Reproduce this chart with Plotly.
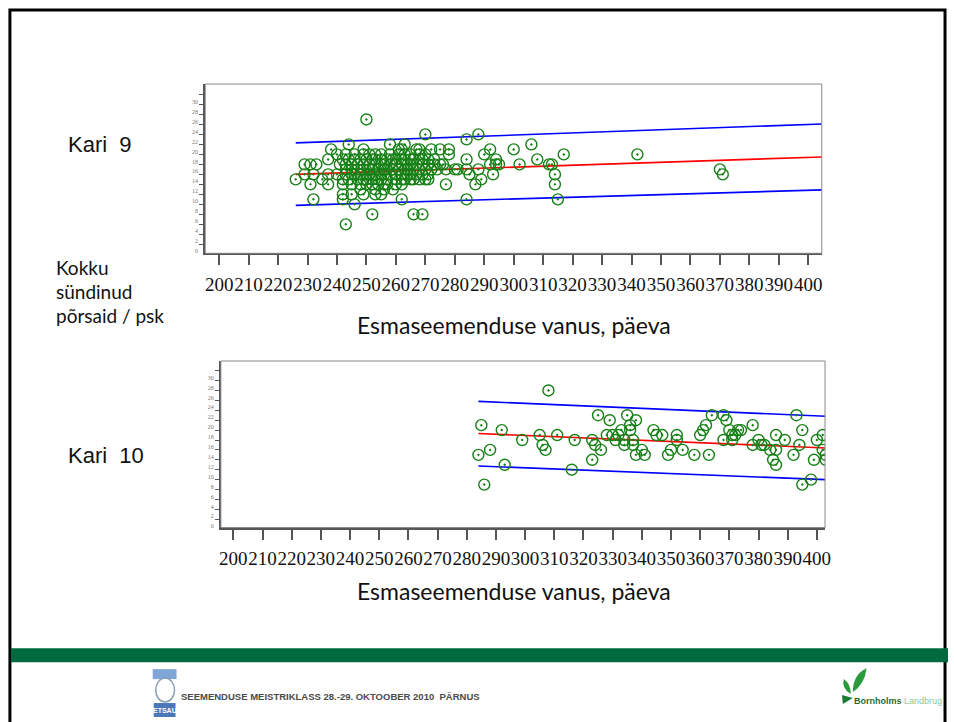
import plotly.graph_objects as go

W, H = 954, 722

# Kari 9 - age at first insemination (days) and total born per litter
k9_age = [
    250,
    270, 288,
    284,
    244, 258, 263, 306,
    238, 249, 261, 262, 267, 268, 272, 275, 278, 292,
    300,
    240, 243, 246, 249, 251, 253, 255, 258, 261, 263,
    265, 268, 270, 278, 290, 317, 342,
    237, 242, 244, 246, 248, 250, 252, 253, 255, 257,
    259, 260, 262, 263, 265, 266, 268, 269, 271, 273,
    284, 294, 308,
    229, 231, 233, 241, 243, 245, 247, 249, 251, 253,
    255, 256, 258, 260, 262, 264, 265, 267, 269, 271,
    273, 275, 276, 292, 294, 295, 302, 312, 313,
    243, 245, 247, 249, 251, 252, 254, 256, 257, 259,
    261, 263, 264, 266, 268, 270, 272, 274, 277, 280,
    281, 284, 288, 370,
    229, 232, 237, 240, 243, 245, 246, 248, 250, 251,
    253, 255, 256, 258, 260, 262, 264, 265, 267, 269,
    271, 285, 293, 314, 371,
    226, 235, 242, 244, 247, 249, 250, 252, 254, 255,
    257, 260, 262, 263, 265, 266, 268, 270, 271, 289,
    231, 237, 242, 245, 248, 250, 252, 254, 256, 257,
    260, 262, 277, 287, 314,
    248, 253, 256, 259,
    242, 245, 249, 253, 255,
    232, 242, 262, 284, 315,
    246,
    252, 266, 269,
    243,
]
k9_born = [
    25,
    22, 22,
    21,
    20, 20, 20, 20,
    19, 19, 19, 19, 19, 19, 19, 19, 19, 19,
    19,
    18, 18, 18, 18, 18, 18, 18, 18, 18, 18,
    18, 18, 18, 18, 18, 18, 18,
    17, 17, 17, 17, 17, 17, 17, 17, 17, 17,
    17, 17, 17, 17, 17, 17, 17, 17, 17, 17,
    17, 17, 17,
    16, 16, 16, 16, 16, 16, 16, 16, 16, 16,
    16, 16, 16, 16, 16, 16, 16, 16, 16, 16,
    16, 16, 16, 16, 16, 16, 16, 16, 16,
    15, 15, 15, 15, 15, 15, 15, 15, 15, 15,
    15, 15, 15, 15, 15, 15, 15, 15, 15, 15,
    15, 15, 15, 15,
    14, 14, 14, 14, 14, 14, 14, 14, 14, 14,
    14, 14, 14, 14, 14, 14, 14, 14, 14, 14,
    14, 14, 14, 14, 14,
    13, 13, 13, 13, 13, 13, 13, 13, 13, 13,
    13, 13, 13, 13, 13, 13, 13, 13, 13, 13,
    12, 12, 12, 12, 12, 12, 12, 12, 12, 12,
    12, 12, 12, 12, 12,
    11, 11, 11, 11,
    10, 10, 10, 10, 10,
    9, 9, 9, 9, 9,
    8,
    6, 6, 6,
    4,
]

# Kari 9 regression line and prediction band (end points)
k9_fit_age = [226, 405]
k9_fit = [14.0, 17.5]
k9_upper = [20.3, 24.1]
k9_lower = [7.8, 10.9]

# Kari 10
k10_age = [284, 285, 286, 288, 292, 293, 299, 305, 306, 307,
           308, 311, 316, 317, 323, 323, 324, 325, 326, 328,
           329, 330, 331, 332, 333, 334, 334, 335, 336, 336,
           337, 337, 338, 338, 340, 341, 344, 345, 347, 349,
           350, 352, 352, 354, 358, 360, 361, 362, 363, 364,
           368, 368, 369, 370, 371, 371, 372, 373, 374, 378,
           378, 380, 381, 382, 384, 385, 386, 386, 386, 389,
           392, 393, 394, 395, 395, 398, 399, 400, 402, 402,
           403, 403]
k10_born = [13, 19, 7, 14, 18, 11, 16, 17, 15, 14,
            26, 17, 10, 16, 12, 16, 15, 21, 14, 17,
            20, 17, 16, 17, 18, 15, 16, 21, 19, 18,
            16, 15, 20, 13, 14, 13, 18, 17, 17, 13,
            14, 17, 16, 14, 13, 17, 18, 19, 13, 21,
            21, 16, 20, 18, 17, 16, 17, 18, 18, 19,
            15, 16, 15, 15, 14, 12, 11, 17, 14, 16,
            13, 21, 15, 18, 7, 8, 12, 16, 17, 14,
            13, 12]

k10_fit_age = [284, 403]
k10_fit = [17.3, 14.4]
k10_upper = [23.8, 20.8]
k10_lower = [10.75, 8.0]

x_ticks = list(range(200, 401, 10))
y_ticks = list(range(0, 31, 2))

GREEN = "#168016"


def px_x(p):
    return p / W


def px_y(p):
    return 1 - p / H


fig = go.Figure()


def add_panel(age, born, fit_age, fit, upper, lower, xa, ya):
    for yy, col in [(upper, "#0000ff"), (lower, "#0000ff"), (fit, "#ff0000")]:
        fig.add_trace(go.Scatter(
            x=fit_age, y=yy, mode="lines", xaxis=xa, yaxis=ya,
            line=dict(color=col, width=1.6), hoverinfo="skip",
        ))
    fig.add_trace(go.Scatter(
        x=age, y=born, mode="markers", xaxis=xa, yaxis=ya,
        marker=dict(symbol="circle-open-dot", size=11, color=GREEN,
                    line=dict(color=GREEN, width=1.4)),
    ))


add_panel(k9_age, k9_born, k9_fit_age, k9_fit, k9_upper, k9_lower, "x", "y")
add_panel(k10_age, k10_born, k10_fit_age, k10_fit, k10_upper, k10_lower, "x2", "y2")

xaxis_style = dict(
    tickvals=x_ticks, ticks="outside", ticklen=10, tickwidth=1.5, tickcolor="#555",
    showline=True, linecolor="#555", linewidth=2, showgrid=False, zeroline=False,
    tickfont=dict(family="Liberation Serif", size=19, color="#111"),
    tickangle=0, ticklabelstandoff=3,
)
yaxis_style = dict(
    tickvals=y_ticks, ticks="outside", ticklen=4, tickwidth=1, tickcolor="#555",
    showline=True, linecolor="#555", linewidth=2, showgrid=False, zeroline=False,
    tickfont=dict(family="Liberation Serif", size=6, color="#777"),
    ticklabelshift=7,
)

fig.update_layout(
    width=W, height=H, margin=dict(l=0, r=0, t=0, b=0),
    paper_bgcolor="white", plot_bgcolor="white", showlegend=False,
    xaxis=dict(domain=[px_x(205), px_x(826.7)], range=[195.29, 404.6], anchor="y", **xaxis_style),
    yaxis=dict(domain=[px_y(254), px_y(84.3)], range=[-1.80, 32.08], anchor="x", **yaxis_style),
    xaxis2=dict(domain=[px_x(220.7), px_x(830)], range=[195.72, 402.8], anchor="y2", **xaxis_style),
    yaxis2=dict(domain=[px_y(529), px_y(362)], range=[-1.67, 31.95], anchor="x2", **yaxis_style),
)

shapes = []
# thin frame around each plot
for xr, yr in [("x", "y"), ("x2", "y2")]:
    shapes.append(dict(type="rect", xref=xr + " domain", yref=yr + " domain",
                       x0=0, x1=1, y0=0, y1=1, line=dict(color="#888", width=1)))
# slide border
shapes.append(dict(type="rect", xref="paper", yref="paper",
                   x0=px_x(8), x1=px_x(951), y0=-0.05, y1=px_y(10),
                   line=dict(color="black", width=3), layer="below"))
# green footer band
shapes.append(dict(type="rect", xref="paper", yref="paper",
                   x0=px_x(9), x1=1, y0=px_y(664), y1=px_y(650),
                   fillcolor="#006a3e", line=dict(width=0)))
# ETSAU logo (simplified)
shapes.append(dict(type="rect", xref="paper", yref="paper",
                   x0=px_x(152), x1=px_x(176), y0=px_y(681), y1=px_y(671),
                   fillcolor="#7fa6d6", line=dict(width=0)))
shapes.append(dict(type="circle", xref="paper", yref="paper",
                   x0=px_x(155), x1=px_x(174), y0=px_y(704), y1=px_y(680),
                   fillcolor="white", line=dict(color="#8a9db8", width=1.5)))
shapes.append(dict(type="rect", xref="paper", yref="paper",
                   x0=px_x(153), x1=px_x(175), y0=px_y(719), y1=px_y(705),
                   fillcolor="#4a78b8", line=dict(width=0)))
# Bornholms Landbrug leaves (simplified)
shapes.append(dict(type="path", xref="paper", yref="paper",
                   path="M {0},{1} Q {2},{3} {4},{5} Q {6},{7} {0},{1} Z".format(
                       px_x(858), px_y(694), px_x(858), px_y(676), px_x(872), px_y(670),
                       px_x(870), px_y(686)),
                   fillcolor="#2a9a3c", line=dict(width=0)))
shapes.append(dict(type="path", xref="paper", yref="paper",
                   path="M {0},{1} Q {2},{3} {4},{5} Q {6},{7} {0},{1} Z".format(
                       px_x(856), px_y(696), px_x(846), px_y(690), px_x(849), px_y(681),
                       px_x(856), px_y(686)),
                   fillcolor="#2a9a3c", line=dict(width=0)))
shapes.append(dict(type="path", xref="paper", yref="paper",
                   path="M {0},{1} L {2},{3} L {4},{5} Z".format(
                       px_x(847), px_y(697), px_x(858), px_y(700), px_x(848), px_y(706)),
                   fillcolor="#1f7a33", line=dict(width=0)))
fig.update_layout(shapes=shapes)

label_font = dict(family="Lato", size=19, color="#111")
title_font = dict(family="Lato", size=23, color="#111")
kari_font = dict(family="Liberation Sans", size=22, color="#111")
ann = [
    dict(text="Kari \u00a09", x=px_x(65), y=px_y(145), xanchor="left", font=kari_font),
    dict(text="Kari \u00a010", x=px_x(65), y=px_y(457), xanchor="left", font=kari_font),
    dict(text="Kokku", x=px_x(52), y=px_y(268), xanchor="left", font=label_font),
    dict(text="sündinud", x=px_x(52), y=px_y(292), xanchor="left", font=label_font),
    dict(text="põrsaid / psk", x=px_x(52), y=px_y(316), xanchor="left", font=label_font),
    dict(text="Esmaseemenduse vanus, päeva", x=px_x(516), y=px_y(326), xanchor="center", font=title_font),
    dict(text="Esmaseemenduse vanus, päeva", x=px_x(516), y=px_y(593), xanchor="center", font=title_font),
    dict(text="<b>SEEMENDUSE MEISTRIKLASS 28.-29. OKTOOBER 2010 \u00a0PÄRNUS</b>",
         x=px_x(178), y=px_y(698), xanchor="left",
         font=dict(family="Liberation Sans", size=9.5, color="#4a4a4a")),
    dict(text="<b>ETSAU</b>", x=px_x(164), y=px_y(712), xanchor="center",
         font=dict(family="Liberation Sans", size=7, color="white")),
    dict(text="<b>Bornholms</b> <span style='color:#8cc89a'>Landbrug</span>",
         x=px_x(857), y=px_y(703), xanchor="left",
         font=dict(family="Liberation Sans", size=9, color="#1f6e33")),
]
for a in ann:
    a.update(xref="paper", yref="paper", yanchor="middle", showarrow=False)
fig.update_layout(annotations=ann)

fig.write_html("out.html", config={"displayModeBar": False},
               post_script="document.body.style.margin = '0';")
